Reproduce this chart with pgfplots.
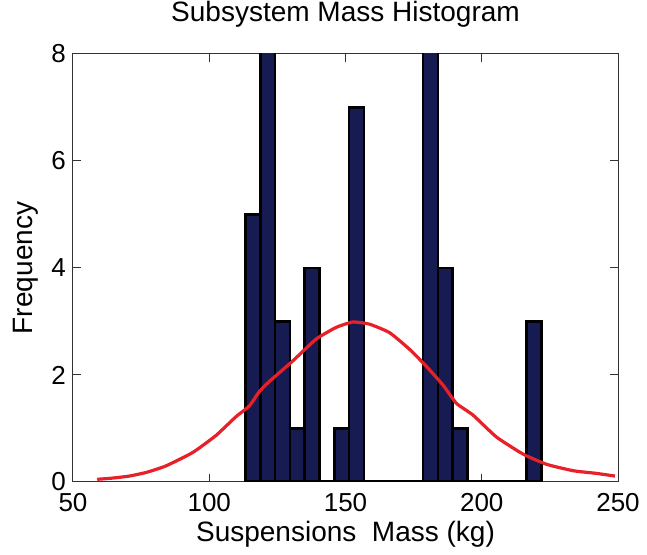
\documentclass[border=0pt]{standalone}
\usepackage{fontspec}
\setmainfont{Liberation Sans}
\usepackage{pgfplots}
\pgfplotsset{compat=1.18}
\definecolor{barnavy}{RGB}{22,28,82}
\definecolor{curvered}{RGB}{232,32,40}
\begin{document}
\begin{tikzpicture}
\begin{axis}[
  name=ax,
  scale only axis,
  width=272.5pt, height=214pt,
  xmin=50, xmax=250, ymin=0, ymax=8,
  xtick={50,100,150,200,250},
  ytick={0,2,4,6,8},
  tick align=inside,
  xtick pos=both, ytick pos=both,
  major tick length=4pt,
  axis line style={line width=0.5pt, black!80},
  tick style={line width=0.5pt, black!80},
  /pgf/number format/assume math mode=true,
  ticklabel style={font=\fontsize{13}{15}\selectfont},
  xticklabel style={anchor=base, yshift=-14.75pt},
  title={Subsystem Mass Histogram},
  title style={font=\fontsize{14}{16}\selectfont, at={(axis description cs:0.5,1.0467)}, anchor=base},
  xlabel={Suspensions\ \ Mass (kg)},
  xlabel style={font=\fontsize{14}{16}\selectfont, at={(axis description cs:0.5,-0.139)}, anchor=base},
  ylabel={Frequency},
  ylabel style={font=\fontsize{14}{16}\selectfont, at={(axis description cs:-0.0734,0.5)}, anchor=base},
]
\addplot[ybar interval, fill=barnavy, draw=black, line width=1.3pt] coordinates {
(113.30,5) (118.73,9) (124.16,3) (129.59,1) (135.02,4) (140.45,0) (145.88,1) (151.31,7)
(156.74,0) (162.17,0) (167.60,0) (173.03,0) (178.46,9) (183.89,4) (189.32,1) (194.75,0)
(200.18,0) (205.61,0) (211.04,0) (216.47,3) (221.90,3)
};
\addplot[black, line width=2.2pt] coordinates {(113.30,0) (221.90,0)};
\addplot[curvered, line width=1.6pt, smooth, tension=0.3] coordinates {
(58.9,0.05) (64,0.07) (70.6,0.11) (77,0.18) (84.1,0.30) (93.9,0.55) (102.5,0.87)
(109.8,1.22) (114.7,1.42) (118.4,1.69) (122.1,1.88) (130.6,2.26) (139.2,2.67)
(146.6,2.89) (152.7,2.99) (158.8,2.95) (166.2,2.79) (173.5,2.48) (179.7,2.16)
(185.8,1.81) (190.7,1.47) (196.8,1.25) (205.4,0.84) (215.2,0.52) (223.8,0.33)
(233.6,0.21) (242.2,0.16) (248.9,0.11)
};
\end{axis}
\pgfresetboundingbox
\path ([shift={(-36.5pt,-36.5pt)}]ax.south west) rectangle ([shift={(14.5pt,27pt)}]ax.north east);
\end{tikzpicture}
\end{document}
